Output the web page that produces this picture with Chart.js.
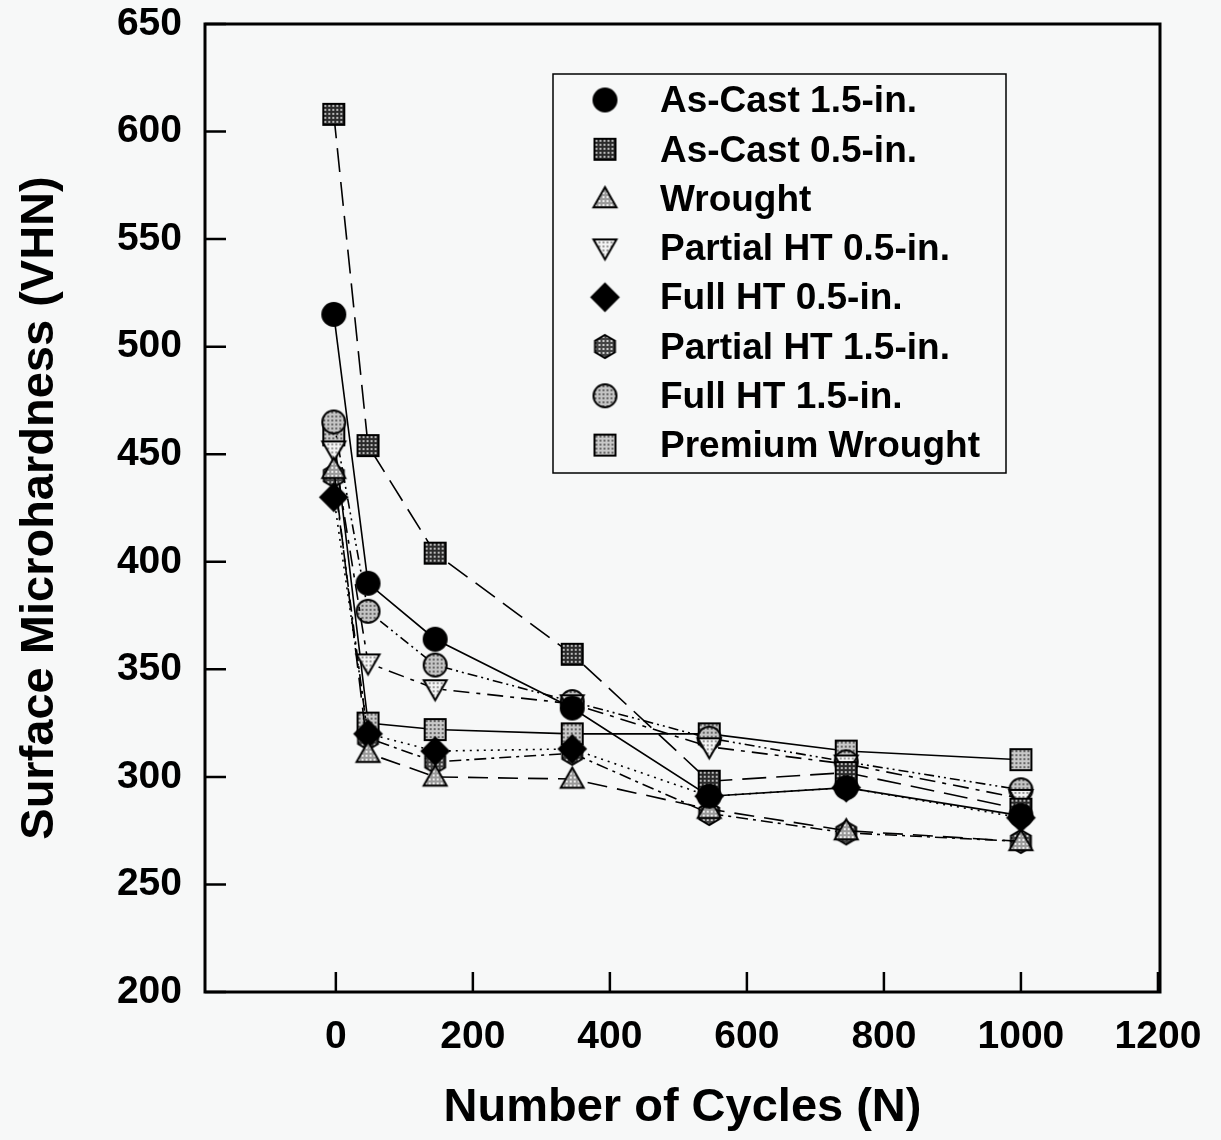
<!DOCTYPE html>
<html>
<head>
<meta charset="utf-8">
<script src="https://cdn.jsdelivr.net/npm/chart.js@4.4.0/dist/chart.umd.min.js"></script>
<style>
  html, body { margin: 0; padding: 0; background: #f7f8f8; }
</style>
</head>
<body>
<canvas id="hardnessChart" width="1221" height="1140"></canvas>
<script>
// values
const cycles = [-3, 47, 145, 345, 545, 745, 1000];

const asCast15 = [515, 390, 364, 332, 291, 295, 282];
const asCast05 = [608, 454, 404, 357, 298, 302, 285];
const wrought = [443, 311, 300, 299, 285, 275, 270];
const partialHT05 = [452, 353, 341, 334, 314, 306, 290];
const fullHT05 = [430, 320, 312, 313, 291, 295, 281];
const partialHT15 = [440, 318, 307, 311, 283, 274, 270];
const fullHT15 = [465, 377, 352, 335, 318, 307, 294];
const premiumWrought = [459, 325, 322, 320, 320, 312, 308];

const seriesNames = [
    'As-Cast 1.5-in.', 'As-Cast 0.5-in.', 'Wrought', 'Partial HT 0.5-in.',
    'Full HT 0.5-in.', 'Partial HT 1.5-in.', 'Full HT 1.5-in.', 'Premium Wrought'
];
const seriesValues = [asCast15, asCast05, wrought, partialHT05, fullHT05, partialHT15, fullHT15, premiumWrought];

const xTicks = [0, 200, 400, 600, 800, 1000, 1200];
const yTicks = [200, 250, 300, 350, 400, 450, 500, 550, 600, 650];

// marker look per series: shape, base colour, dot colour (null = plain), size
const markerLooks = [
    ['circle', '#000', null, 23],
    ['square', '#2a2a2a', '#bbb', 21],
    ['triangle', '#9a9a9a', '#eee', 23],
    ['down', '#f4f4f4', '#999', 23],
    ['diamond', '#000', null, 27],
    ['hexagon', '#444', '#ccc', 23],
    ['circle', '#c4c4c4', '#666', 23],
    ['square', '#c8c8c8', '#666', 21]
];
const dashes = [[], [24, 10], [20, 10], [16, 7, 4, 7], [2, 5], [12, 5, 3, 5], [10, 4, 2, 4, 2, 4], []];

function makeMarker(shape, base, dot, size) {
    const s = size + 6;
    const c = document.createElement('canvas');
    c.width = s;
    c.height = s;
    const g = c.getContext('2d');
    const m = s / 2, r = size / 2;
    let fill = base;
    if (dot) {
        const p = document.createElement('canvas');
        p.width = 4; p.height = 4;
        const pg = p.getContext('2d');
        pg.fillStyle = base; pg.fillRect(0, 0, 4, 4);
        pg.fillStyle = dot; pg.fillRect(0, 0, 2, 2);
        fill = g.createPattern(p, 'repeat');
    }
    g.beginPath();
    if (shape === 'circle') {
        g.arc(m, m, r, 0, Math.PI * 2);
    } else if (shape === 'square') {
        g.rect(m - r, m - r, size, size);
    } else if (shape === 'triangle') {
        g.moveTo(m, m - r); g.lineTo(m + r, m + r * 0.75); g.lineTo(m - r, m + r * 0.75); g.closePath();
    } else if (shape === 'down') {
        g.moveTo(m, m + r); g.lineTo(m + r, m - r * 0.75); g.lineTo(m - r, m - r * 0.75); g.closePath();
    } else if (shape === 'diamond') {
        g.moveTo(m, m - r); g.lineTo(m + r, m); g.lineTo(m, m + r); g.lineTo(m - r, m); g.closePath();
    } else if (shape === 'hexagon') {
        for (let i = 0; i < 6; i++) {
            const a = -Math.PI / 2 + i * Math.PI / 3;
            const px = m + r * Math.cos(a), py = m + r * Math.sin(a);
            if (i === 0) g.moveTo(px, py); else g.lineTo(px, py);
        }
        g.closePath();
    }
    g.fillStyle = fill;
    g.fill();
    g.lineWidth = 2;
    g.strokeStyle = '#000';
    g.stroke();
    return c;
}

const markers = markerLooks.map(l => makeMarker(l[0], l[1], l[2], l[3]));

const datasets = seriesNames.map((name, i) => ({
    label: name,
    data: cycles.map((c, j) => ({ x: c, y: seriesValues[i][j] })),
    borderColor: '#000',
    borderWidth: 1.6,
    borderDash: dashes[i],
    pointStyle: markers[i],
    pointRadius: 11,
    fill: false,
    tension: 0
}));

const tickFont = { family: 'Liberation Sans', weight: 'bold', size: 39 };
const titleFont = { family: 'Liberation Sans', weight: 'bold', size: 47, lineHeight: 1.2 };

// box round the plot with ticks pointing inwards
const framePlugin = {
    id: 'frame',
    afterDatasetsDraw(chart) {
        const { ctx, chartArea: a, scales } = chart;
        ctx.save();
        ctx.strokeStyle = '#000';
        ctx.lineWidth = 3;
        ctx.strokeRect(a.left, a.top, a.right - a.left, a.bottom - a.top);
        ctx.lineWidth = 2.5;
        ctx.beginPath();
        scales.y.ticks.forEach(t => {
            const py = scales.y.getPixelForValue(t.value);
            ctx.moveTo(a.left, py);
            ctx.lineTo(a.left + 21, py);
        });
        scales.x.ticks.forEach(t => {
            const px = scales.x.getPixelForValue(t.value);
            ctx.moveTo(px, a.bottom);
            ctx.lineTo(px, a.bottom - 20);
        });
        ctx.stroke();
        ctx.restore();
    }
};

// boxed legend inside the plot, markers only
const boxLegend = {
    id: 'boxLegend',
    afterDraw(chart) {
        const { ctx } = chart;
        ctx.save();
        ctx.strokeStyle = '#000';
        ctx.lineWidth = 1.5;
        ctx.strokeRect(553, 74, 453, 399);
        ctx.font = 'bold 37px "Liberation Sans"';
        ctx.fillStyle = '#000';
        ctx.textBaseline = 'middle';
        chart.data.datasets.forEach((ds, i) => {
            const rowY = 100 + i * 49.3;
            const img = ds.pointStyle;
            ctx.drawImage(img, 605 - img.width / 2, rowY - img.height / 2);
            ctx.fillText(ds.label, 660, rowY + 2);
        });
        ctx.restore();
    }
};

const ctx = document.getElementById('hardnessChart').getContext('2d');

new Chart(ctx, {
    type: 'line',
    data: { datasets: datasets },
    options: {
        responsive: false,
        animation: false,
        layout: { padding: { top: 24, right: 61, left: 0, bottom: 0 } },
        plugins: {
            legend: { display: false },
            tooltip: { enabled: false }
        },
        scales: {
            x: {
                type: 'linear',
                min: -191,
                max: 1203,
                afterBuildTicks: scale => { scale.ticks = xTicks.map(v => ({ value: v })); },
                afterFit: scale => { scale.height = 148; scale.paddingLeft = 0; scale.paddingRight = 0; },
                grid: { display: false, drawTicks: false },
                border: { display: false },
                ticks: { color: '#000', font: tickFont, padding: 22, maxRotation: 0, callback: v => String(v) },
                title: { display: true, text: 'Number of Cycles (N)', color: '#000', font: titleFont, padding: { top: 0, bottom: 4 } }
            },
            y: {
                type: 'linear',
                min: 200,
                max: 650,
                afterBuildTicks: scale => { scale.ticks = yTicks.map(v => ({ value: v })); },
                afterFit: scale => { scale.width = 205; scale.paddingTop = 0; scale.paddingBottom = 0; },
                grid: { display: false, drawTicks: false },
                border: { display: false },
                ticks: { color: '#000', font: tickFont, padding: 23, callback: v => String(v) },
                title: { display: true, text: 'Surface Microhardness (VHN)', color: '#000', font: titleFont, padding: { top: 12, bottom: 0 } }
            }
        }
    },
    plugins: [framePlugin, boxLegend]
});
</script>
</body>
</html>
